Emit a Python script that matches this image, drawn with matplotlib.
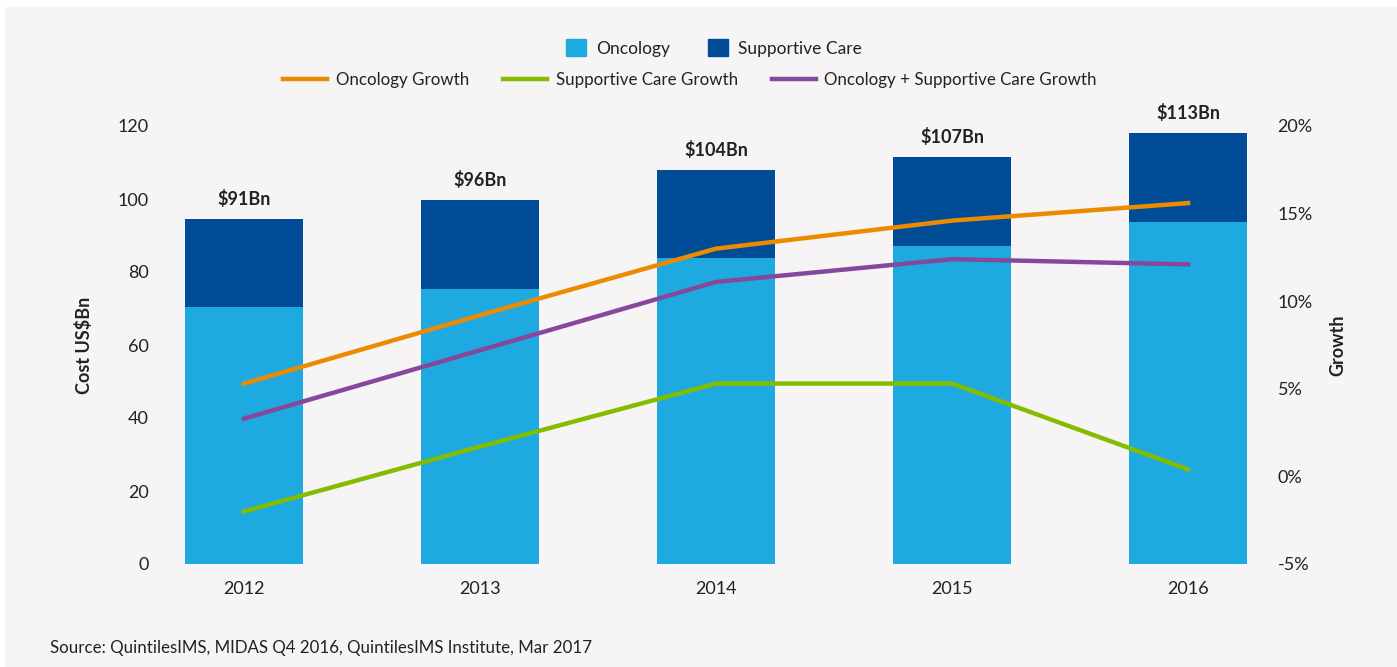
import numpy as np
import matplotlib.pyplot as plt
from matplotlib.patches import Rectangle, Patch
from matplotlib.lines import Line2D

plt.rcParams['font.family'] = ['Lato', 'DejaVu Sans']

# Data
YEARS = ['2012', '2013', '2014', '2015', '2016']
ONCOLOGY = [70.3, 75.3, 83.8, 87.1, 93.8]
SUPPORTIVE = [24.2, 24.4, 24.2, 24.4, 24.3]
TOTAL_LABELS = ['$91Bn', '$96Bn', '$104Bn', '$107Bn', '$113Bn']
ONC_GROWTH = [5.3, 9.2, 13.0, 14.6, 15.6]
SUP_GROWTH = [-2.0, 1.7, 5.3, 5.3, 0.4]
ALL_GROWTH = [3.3, 7.2, 11.1, 12.4, 12.1]

C_ONC = '#1fa9e1'
C_SUP = '#004c97'
C_ORANGE = '#ec8b00'
C_GREEN = '#84bd00'
C_PURPLE = '#87479c'
C_TEXT = '#222222'
BG = '#f6f4f5'

W, H = 1397, 667
fig = plt.figure(figsize=(W / 100, H / 100), dpi=100, facecolor='white')
fig.patches.append(Rectangle((5 / W, 0), 1, 1 - 7 / H, transform=fig.transFigure,
                             facecolor=BG, edgecolor='none', zorder=-10))

left, right = 160, 1265
top, bottom = 126, 564
ax = fig.add_axes([left / W, 1 - bottom / H, (right - left) / W, (bottom - top) / H])
ax.patch.set_alpha(0)

xx = np.arange(len(YEARS))
onc = np.array(ONCOLOGY)
sup = np.array(SUPPORTIVE)
ax.bar(xx, onc, width=0.5, color=C_ONC, zorder=2)
ax.bar(xx, sup, width=0.5, bottom=onc, color=C_SUP, zorder=2)
for x, tot, lab in zip(xx, onc + sup, TOTAL_LABELS):
    ax.annotate(lab, (x, tot), xytext=(0, 8), textcoords='offset points',
                ha='center', va='bottom', fontsize=13, fontweight='bold', color=C_TEXT)

ax.set_xlim(-0.356, 4.326)
ax.set_ylim(0, 120)
ax.set_yticks(range(0, 121, 20))
ax.set_xticks(xx)
ax.set_xticklabels(YEARS)
ax.tick_params(length=0, labelsize=13, labelcolor=C_TEXT)
ax.tick_params(axis='y', pad=8)
ax.tick_params(axis='x', pad=12)
for s in ax.spines.values():
    s.set_visible(False)
ax.set_ylabel('Cost US$Bn', fontsize=13, fontweight='bold', color=C_TEXT, labelpad=18)

ax2 = ax.twinx()
ax2.plot(xx, ONC_GROWTH, color=C_ORANGE, lw=3.2, zorder=3)
ax2.plot(xx, SUP_GROWTH, color=C_GREEN, lw=3.2, zorder=3)
ax2.plot(xx, ALL_GROWTH, color=C_PURPLE, lw=3.2, zorder=3)
ax2.set_ylim(-5, 20)
ax2.set_yticks(range(-5, 21, 5))
ax2.set_yticklabels([f'{v}%' for v in range(-5, 21, 5)])
ax2.tick_params(length=0, labelsize=13, labelcolor=C_TEXT, pad=9)
for s in ax2.spines.values():
    s.set_visible(False)
ax2.set_ylabel('Growth', fontsize=13, fontweight='bold', color=C_TEXT, labelpad=12)

# Legends
h1 = [Patch(color=C_ONC), Patch(color=C_SUP)]
fig.legend(h1, ['Oncology', 'Supportive Care'], ncol=2, frameon=False,
           loc='center', bbox_to_anchor=(714 / W, 1 - 48 / H), fontsize=12.5,
           handlelength=1.15, handleheight=1.15, columnspacing=2.2, handletextpad=0.55,
           labelcolor=C_TEXT)
h2 = [Line2D([], [], color=c, lw=3.2) for c in (C_ORANGE, C_GREEN, C_PURPLE)]
fig.legend(h2, ['Oncology Growth', 'Supportive Care Growth',
                'Oncology + Supportive Care Growth'], ncol=3, frameon=False,
           loc='center', bbox_to_anchor=(690 / W, 1 - 80 / H), fontsize=12.2,
           handlelength=2.6, columnspacing=2.0, handletextpad=0.5,
           labelcolor=C_TEXT)

fig.text(50 / W, 1 - 648 / H, 'Source: QuintilesIMS, MIDAS Q4 2016, QuintilesIMS Institute, Mar 2017',
         fontsize=12.2, color=C_TEXT, va='center', ha='left')

fig.savefig('out.png', dpi=100, facecolor=fig.get_facecolor())
